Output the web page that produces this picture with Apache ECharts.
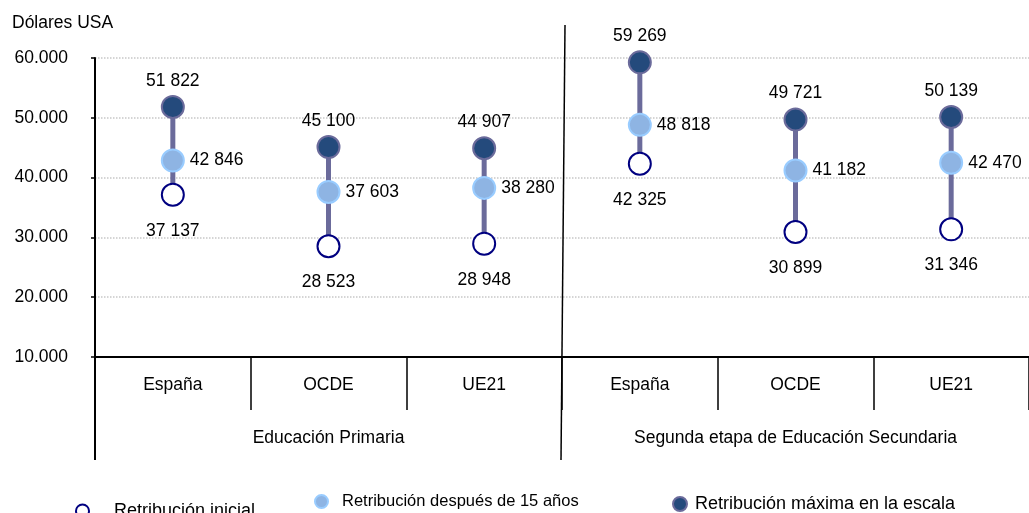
<!DOCTYPE html>
<html>
<head>
<meta charset="utf-8">
<script src="https://cdn.jsdelivr.net/npm/echarts@6/dist/echarts.min.js"></script>
<style>
html,body{margin:0;padding:0;background:#fff;}
#c{width:1029px;height:513px;}
</style>
</head>
<body>
<div id="c"></div>
<script>
const categories = ['España','OCDE','UE21','España','OCDE','UE21'];
const groups = ['Educación Primaria','Segunda etapa de Educación Secundaria'];
const initial = [37137, 28523, 28948, 42325, 30899, 31346];
const after15 = [42846, 37603, 38280, 48818, 41182, 42470];
const maximum = [51822, 45100, 44907, 59269, 49721, 50139];
const yTicks = [10000, 20000, 30000, 40000, 50000, 60000];
const seriesNames = ['Retribución inicial','Retribución después de 15 años','Retribución máxima en la escala'];

const FONT = '"Liberation Sans", Arial, sans-serif';
const FS = 17.5;
const fmtSpace = v => String(v).replace(/\B(?=(\d{3})+(?!\d))/g, ' ');
const fmtDot = v => String(v).replace(/\B(?=(\d{3})+(?!\d))/g, '.');

const chart = echarts.init(document.getElementById('c'));
const rangeData = categories.map((c,i)=>[i, initial[i], maximum[i]]);
const labelBase = {show:true, color:'#000', fontSize:FS, fontFamily:FONT, formatter:p=>fmtSpace(p.value[1])};

const option = {
  animation:false,
  backgroundColor:'#fff',
  textStyle:{fontFamily:FONT},
  title:{text:'Dólares USA', left:7, top:9, textStyle:{fontSize:FS, fontWeight:'normal', color:'#000', fontFamily:FONT}},
  grid:{left:95, right:0, top:58, bottom:156, containLabel:false},
  legend:[
    {data:[seriesNames[0]], left:70, top:497, itemWidth:13, itemHeight:13, textStyle:{fontSize:18, color:'#000', fontFamily:FONT, padding:[0,0,0,20]}},
    {data:[seriesNames[1]], left:309, top:488, itemWidth:13, itemHeight:13, textStyle:{fontSize:16.5, color:'#000', fontFamily:FONT, padding:[0,0,0,9]}},
    {data:[seriesNames[2]], left:667, top:490, itemWidth:14, itemHeight:14, textStyle:{fontSize:18, color:'#000', fontFamily:FONT, padding:[0,0,0,3]}}
  ],
  xAxis:[
    {type:'category', data:categories, position:'bottom', boundaryGap:true,
     axisLine:{show:true, lineStyle:{color:'#000', width:2}},
     axisTick:{show:true, interval:0, length:53, lineStyle:{color:'#000', width:1.5}},
     axisLabel:{interval:0, color:'#000', fontSize:FS, fontFamily:FONT, margin:19},
     splitLine:{show:false}},
    {type:'category', data:groups, position:'bottom', boundaryGap:true,
     axisLine:{show:false}, axisTick:{show:false},
     axisLabel:{interval:0, color:'#000', fontSize:FS, fontFamily:FONT, margin:72}}
  ],
  yAxis:{type:'value', min:yTicks[0], max:yTicks[yTicks.length-1], interval:10000,
    axisLine:{show:true, lineStyle:{color:'#000', width:2}},
    axisTick:{show:true, length:4, lineStyle:{color:'#000', width:1.5}},
    axisLabel:{color:'#000', fontSize:FS, fontFamily:FONT, margin:27, formatter:v=>fmtDot(v)},
    splitLine:{show:true, lineStyle:{color:'#c8c8c8', type:'dotted', width:1.5}}},
  series:[
    {type:'custom', xAxisIndex:0, z:1, data:rangeData, silent:true,
     renderItem:(params, api)=>{
       const p1 = api.coord([api.value(0), api.value(1)]);
       const p2 = api.coord([api.value(0), api.value(2)]);
       return {type:'line', shape:{x1:p1[0], y1:p1[1], x2:p2[0], y2:p2[1]}, style:{stroke:'#6b6b9b', lineWidth:5}};
     }},
    {name:seriesNames[0], type:'scatter', xAxisIndex:0, z:3, symbol:'circle', symbolSize:22,
     data:initial.map((v,i)=>[i,v]),
     itemStyle:{color:'#ffffff', borderColor:'#000080', borderWidth:2, opacity:1},
     label:Object.assign({}, labelBase, {position:'bottom', distance:15})},
    {name:seriesNames[1], type:'scatter', xAxisIndex:0, z:3, symbol:'circle', symbolSize:22,
     data:after15.map((v,i)=>[i,v]),
     itemStyle:{color:'#8eb4e3', borderColor:'#99ccff', borderWidth:2, opacity:1},
     label:Object.assign({}, labelBase, {position:'right', distance:5})},
    {name:seriesNames[2], type:'scatter', xAxisIndex:0, z:3, symbol:'circle', symbolSize:22,
     data:maximum.map((v,i)=>[i,v]),
     itemStyle:{color:'#244a7c', borderColor:'#6b6b9b', borderWidth:2, opacity:1},
     label:Object.assign({}, labelBase, {position:'top', distance:5})}
  ]
};
chart.setOption(option);

// structural lines: y-axis extension and group separator, positioned from the axes
const yBottom = chart.convertToPixel({yAxisIndex:0}, yTicks[0]);
const g0 = chart.convertToPixel({xAxisIndex:1}, 0);
const g1 = chart.convertToPixel({xAxisIndex:1}, 1);
const xLeft = g0 - (g1 - g0)/2;
const xMid = (g0 + g1)/2;
chart.setOption({graphic:[
  {type:'line', shape:{x1:xLeft, y1:yBottom, x2:xLeft, y2:460}, style:{stroke:'#000', lineWidth:2}, z:10},
  {type:'line', shape:{x1:xMid+3, y1:25, x2:xMid-1, y2:460}, style:{stroke:'#000', lineWidth:1.5}, z:10}
]});
</script>
</body>
</html>
